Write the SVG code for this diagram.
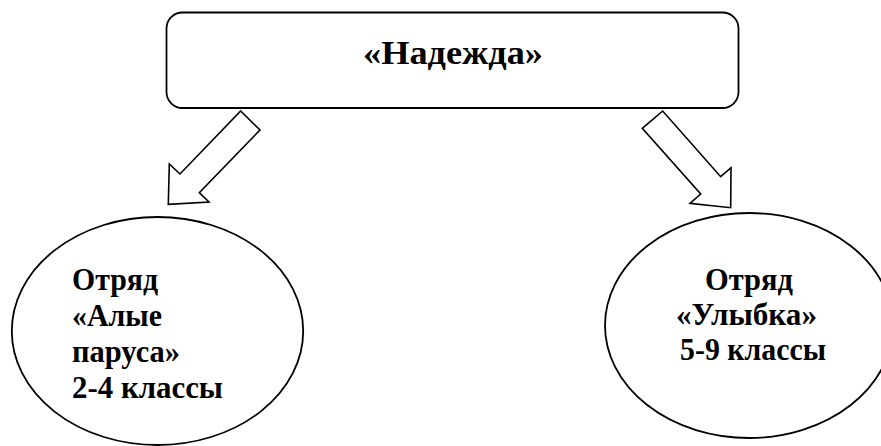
<svg xmlns="http://www.w3.org/2000/svg" width="881" height="446" viewBox="0 0 881 446">
<style>
.shape{fill:#fff;stroke:#000;stroke-width:1.8}
.arrow{fill:#fff;stroke:#000;stroke-width:1.6;stroke-linejoin:miter}
text{font-family:"Liberation Serif","DejaVu Serif","Times New Roman",serif;font-weight:bold;fill:#000}
.t{font-size:33px}
.b{font-size:31px}
</style>
<rect width="881" height="446" fill="#fff"/>
<g id="node-nadezhda">
<rect class="shape" x="166.5" y="12.5" width="572" height="95.5" rx="16" ry="16"/>
<text class="t" x="453" y="64" text-anchor="middle" textLength="180" lengthAdjust="spacingAndGlyphs">«Надежда»</text>
</g>
<g id="connectors">
<polygon class="arrow" points="240.7,111 260,130 199.3,192.7 209,202 168.3,204.3 169.3,164 180,174"/>
<polygon class="arrow" points="662.7,111 642.3,128.3 700.7,194 690,203.3 730.7,207.7 731,167.7 720.7,176.7"/>
</g>
<g id="node-alye-parusa">
<ellipse class="shape" cx="157.5" cy="331" rx="145.7" ry="114"/>
<text class="b" x="72" y="290" textLength="86" lengthAdjust="spacingAndGlyphs">Отряд</text>
<text class="b" x="72" y="326" textLength="90" lengthAdjust="spacingAndGlyphs">«Алые</text>
<text class="b" x="72" y="362" textLength="108" lengthAdjust="spacingAndGlyphs">паруса»</text>
<text class="b" x="72" y="398" textLength="151" lengthAdjust="spacingAndGlyphs">2-4 классы</text>
</g>
<g id="node-ulybka">
<ellipse class="shape" cx="749" cy="325.5" rx="144" ry="112.5"/>
<text class="b" x="749" y="290" text-anchor="middle" textLength="88" lengthAdjust="spacingAndGlyphs">Отряд</text>
<text class="b" x="746.5" y="325" text-anchor="middle" textLength="141" lengthAdjust="spacingAndGlyphs">«Улыбка»</text>
<text class="b" x="753" y="360" text-anchor="middle" textLength="146" lengthAdjust="spacingAndGlyphs">5-9 классы</text>
</g>
</svg>
